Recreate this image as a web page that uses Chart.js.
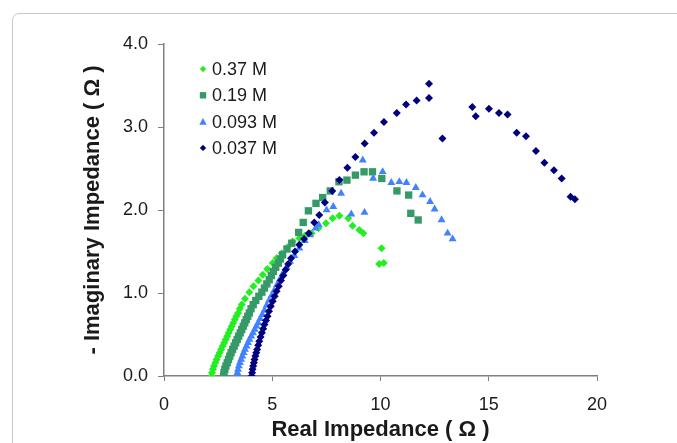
<!DOCTYPE html>
<html>
<head>
<meta charset="utf-8">
<script src="https://cdn.jsdelivr.net/npm/chart.js@4.4.1/dist/chart.umd.min.js"></script>
<style>
  html, body { margin: 0; padding: 0; background: #fff; overflow: hidden; }
  #frame {
    position: absolute; left: 12px; top: 13px; width: 700px; height: 470px;
    border: 1px solid #c8c8c8; border-radius: 7px;
  }
  #c { position: absolute; left: 0; top: 0; }
</style>
</head>
<body>
<div id="frame"></div>
<canvas id="c" width="677" height="443"></canvas>
<script>
// Nyquist plot, real vs -imaginary impedance (ohm)
const seriesNames = ['0.37 M', '0.19 M', '0.093 M', '0.037 M'];

const points037M = [ // 0.37 M
  [2.20,0.00],[2.22,0.04],[2.26,0.08],[2.31,0.12],[2.37,0.16],[2.43,0.20],[2.50,0.24],[2.57,0.28],
  [2.64,0.32],[2.71,0.36],[2.78,0.40],[2.85,0.44],[2.92,0.48],[2.99,0.52],[3.06,0.56],[3.13,0.60],
  [3.20,0.64],[3.27,0.68],[3.34,0.72],[3.42,0.76],[3.50,0.81],[3.59,0.86],[3.74,0.93],[3.94,1.01],
  [4.13,1.08],[4.36,1.15],[4.56,1.22],[4.77,1.29],[5.02,1.36],[5.20,1.42],[5.44,1.48],[5.70,1.55],
  [5.94,1.62],[6.25,1.66],[6.51,1.69],[6.82,1.72],[7.13,1.78],[7.48,1.84],[7.79,1.90],[8.10,1.93],
  [8.51,1.90],[8.71,1.81],[9.02,1.76],[9.21,1.72],[10.05,1.54],[9.94,1.35],[10.15,1.36]
];
const points019M = [ // 0.19 M
  [2.75,0.00],[2.77,0.04],[2.81,0.08],[2.86,0.12],[2.92,0.16],[2.98,0.20],[3.04,0.24],[3.10,0.28],
  [3.17,0.32],[3.24,0.36],[3.31,0.40],[3.38,0.44],[3.45,0.48],[3.52,0.52],[3.59,0.56],[3.66,0.60],
  [3.73,0.64],[3.80,0.68],[3.87,0.72],[3.94,0.76],[4.02,0.81],[4.12,0.86],[4.24,0.91],[4.38,0.96],
  [4.52,1.01],[4.64,1.06],[4.75,1.11],[4.86,1.16],[4.96,1.21],[5.05,1.26],[5.16,1.31],[5.28,1.36],
  [5.38,1.41],[5.48,1.46],[5.68,1.53],[5.90,1.60],[6.22,1.73],[6.43,1.85],[6.67,1.99],[7.02,2.08],
  [7.33,2.15],[7.68,2.23],[8.08,2.34],[8.45,2.36],[8.84,2.42],[9.24,2.46],[9.63,2.46],[10.06,2.38],
  [10.76,2.23],[11.30,2.18],[11.40,1.96],[11.74,1.88]
];
const points0093M = [ // 0.093 M
  [3.37,0.00],[3.39,0.04],[3.42,0.08],[3.46,0.12],[3.51,0.16],[3.56,0.20],[3.62,0.24],[3.68,0.28],
  [3.74,0.32],[3.81,0.36],[3.88,0.40],[3.95,0.44],[4.03,0.48],[4.11,0.52],[4.19,0.56],[4.27,0.60],
  [4.35,0.64],[4.44,0.69],[4.54,0.74],[4.64,0.79],[4.74,0.85],[4.85,0.91],[4.97,0.97],[5.09,1.03],
  [5.22,1.10],[5.36,1.17],[5.50,1.24],[5.66,1.31],[5.82,1.38],[6.02,1.45],[6.25,1.54],[6.50,1.63],
  [6.75,1.70],[7.00,1.78],[7.15,1.82],[7.51,2.00],[7.82,2.04],[8.18,2.20],[8.65,1.95],[9.26,1.97],
  [9.18,2.60],[9.66,2.38],[10.10,2.46],[10.50,2.33],[10.87,2.34],[11.20,2.33],[11.63,2.27],[11.94,2.18],
  [12.29,2.10],[12.50,2.01],[12.82,1.88],[13.10,1.72],[13.33,1.65]
];
const points0037M = [ // 0.037 M
  [4.05,0.00],[4.07,0.04],[4.09,0.08],[4.12,0.12],[4.15,0.16],[4.18,0.20],[4.22,0.24],[4.26,0.28],
  [4.30,0.32],[4.35,0.37],[4.40,0.42],[4.46,0.47],[4.52,0.52],[4.58,0.57],[4.64,0.62],[4.71,0.67],
  [4.78,0.72],[4.85,0.78],[4.93,0.84],[5.02,0.90],[5.11,0.96],[5.20,1.02],[5.30,1.08],[5.40,1.15],
  [5.51,1.21],[5.62,1.28],[5.74,1.35],[5.87,1.42],[6.05,1.50],[6.25,1.58],[6.47,1.65],[6.69,1.72],
  [6.94,1.85],[7.17,1.94],[7.43,2.09],[7.77,2.23],[8.10,2.36],[8.47,2.51],[8.84,2.64],[9.27,2.80],
  [9.70,2.93],[10.16,3.06],[10.75,3.17],[11.18,3.27],[11.67,3.32],[12.24,3.35],[12.24,3.52],[12.86,2.86],
  [14.24,3.24],[14.40,3.13],[15.01,3.22],[15.47,3.17],[15.87,3.15],[16.29,2.93],[16.72,2.89],[17.18,2.71],
  [17.57,2.57],[18.01,2.48],[18.37,2.38],[18.78,2.16],[18.98,2.13]
];

const colors = ['#22ee22', '#359a68', '#4282ff', '#00007f'];
const shapes = ['rectRot', 'rect', 'triangle', 'rectRot'];
const radii = [4, 5.2, 4.6, 4];

const allPoints = [points037M, points019M, points0093M, points0037M];

const FONT = '"Liberation Sans", Arial, sans-serif';

// legend drawn inside the plot area, top-left
const insideLegend = {
  id: 'insideLegend',
  afterDraw(chart) {
    const ctx = chart.ctx;
    const x0 = chart.chartArea.left + 39;
    const y0 = chart.chartArea.top + 25;
    ctx.save();
    ctx.font = '18px ' + FONT;
    ctx.textBaseline = 'middle';
    seriesNames.forEach((name, i) => {
      const y = y0 + i * 26.3;
      ctx.fillStyle = colors[i];
      ctx.beginPath();
      const s = 3.2;
      if (shapes[i] === 'rect') {
        ctx.rect(x0 - s, y - s, 2 * s, 2 * s);
      } else if (shapes[i] === 'triangle') {
        ctx.moveTo(x0, y - s - 0.5);
        ctx.lineTo(x0 + s + 0.5, y + s);
        ctx.lineTo(x0 - s - 0.5, y + s);
      } else {
        ctx.moveTo(x0, y - s);
        ctx.lineTo(x0 + s, y);
        ctx.lineTo(x0, y + s);
        ctx.lineTo(x0 - s, y);
      }
      ctx.closePath();
      ctx.fill();
      ctx.fillStyle = '#1a1a1a';
      ctx.fillText(name, x0 + 9, y + 1);
    });
    ctx.restore();
  }
};

new Chart(document.getElementById('c'), {
  type: 'scatter',
  data: {
    datasets: allPoints.map((pts, i) => ({
      label: seriesNames[i],
      data: pts.map(p => ({ x: p[0], y: p[1] })),
      pointStyle: shapes[i],
      pointRadius: radii[i],
      pointBorderWidth: 0,
      backgroundColor: colors[i],
      borderColor: colors[i],
      order: 3 - i
    }))
  },
  options: {
    responsive: false,
    devicePixelRatio: 1,
    animation: false,
    layout: { padding: { left: 0, top: 44, right: 80, bottom: 0 } },
    plugins: {
      legend: { display: false },
      tooltip: { enabled: false }
    },
    scales: {
      x: {
        type: 'linear',
        min: 0, max: 20,
        afterFit(scale) { scale.height = 67; },
        ticks: { stepSize: 5, padding: 13, color: '#1a1a1a', font: { family: FONT, size: 18 } },
        grid: { drawOnChartArea: false, drawTicks: true, tickLength: 5, color: '#808080' },
        border: { display: true, color: '#808080', width: 1.5 },
        title: {
          display: true,
          text: 'Real Impedance ( Ω )',
          color: '#1a1a1a',
          font: { family: FONT, size: 22, weight: 'bold' },
          padding: { top: 0, bottom: 0 }
        }
      },
      y: {
        min: 0, max: 4,
        afterFit(scale) { scale.width = 164; },
        ticks: {
          stepSize: 1, padding: 10, color: '#1a1a1a',
          font: { family: FONT, size: 18 },
          callback: v => v.toFixed(1)
        },
        grid: { drawOnChartArea: false, drawTicks: true, tickLength: 6, color: '#808080' },
        border: { display: true, color: '#808080', width: 1.5 },
        title: {
          display: true,
          text: '- Imaginary Impedance ( Ω )',
          color: '#1a1a1a',
          font: { family: FONT, size: 22, weight: 'bold' },
          padding: { top: 80, bottom: 0 }
        }
      }
    }
  },
  plugins: [insideLegend]
});
</script>
</body>
</html>
